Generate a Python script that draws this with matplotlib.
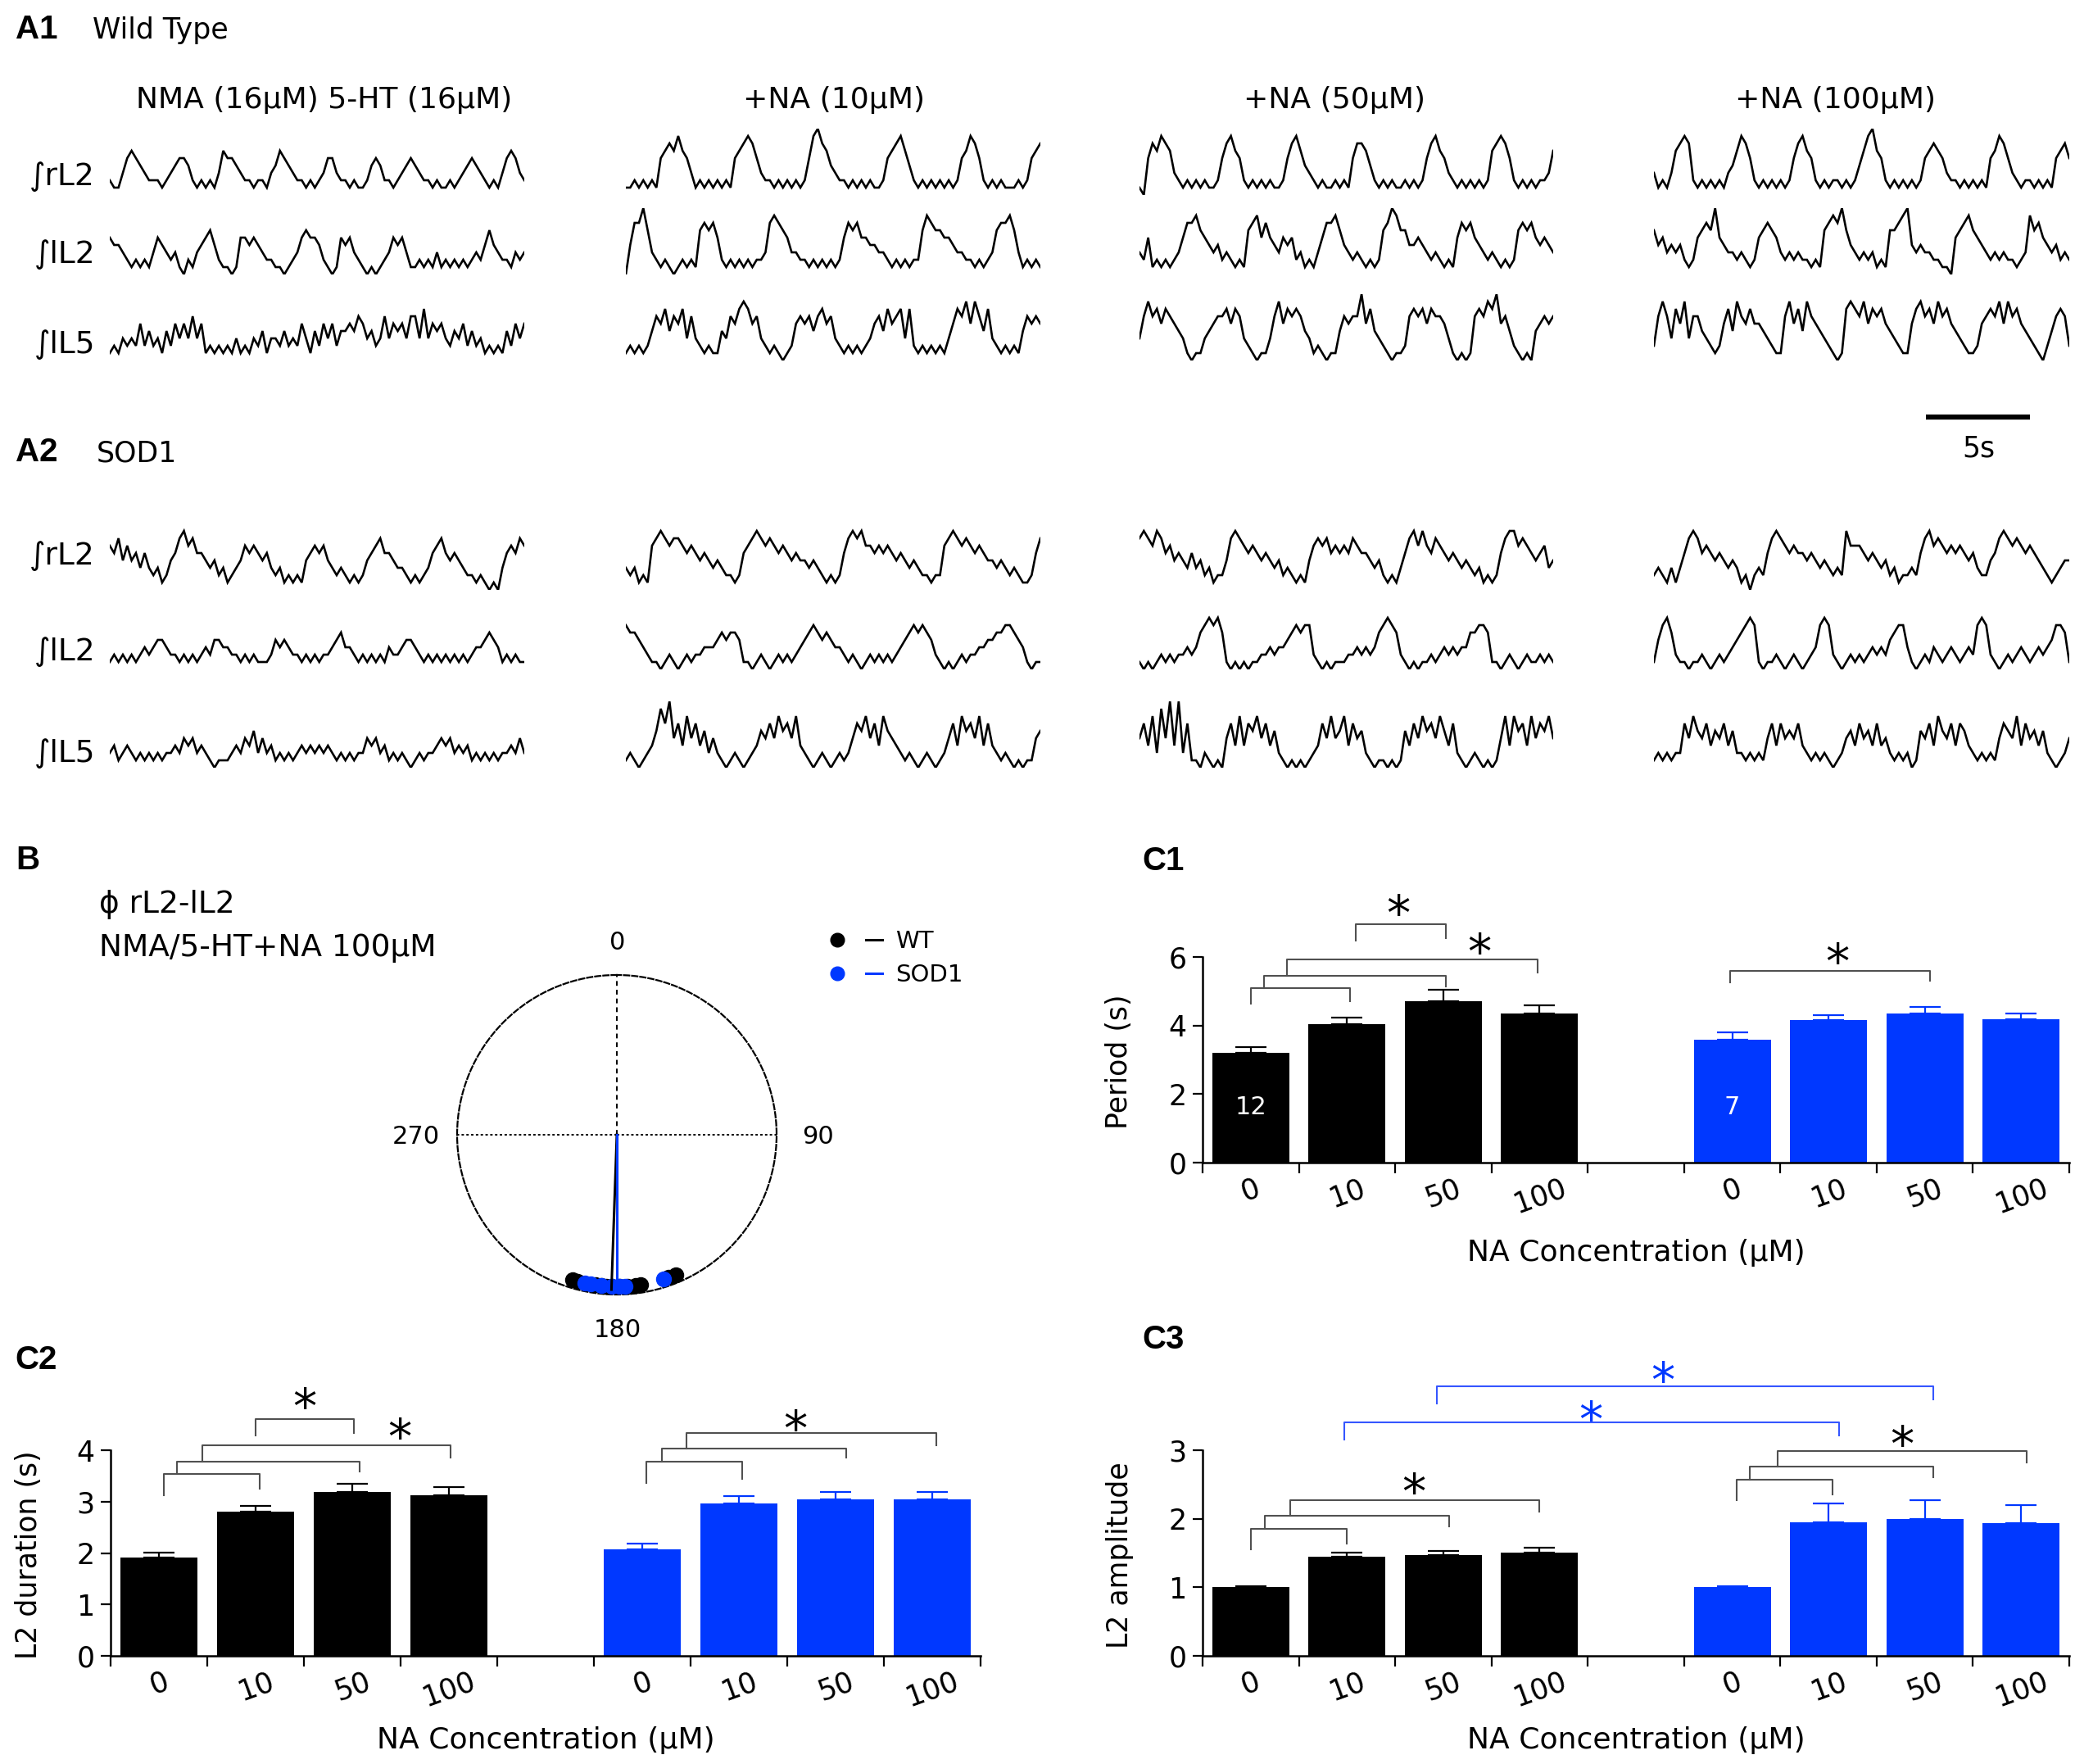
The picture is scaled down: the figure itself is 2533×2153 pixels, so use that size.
import numpy as np
import matplotlib
matplotlib.use("Agg")
import matplotlib.pyplot as plt
from matplotlib import transforms

plt.rcParams['font.family'] = ['DejaVu Sans']

# ------------------------------------------------------------------ data
concentrations = ["0", "10", "50", "100"]

period_wt = [3.21, 4.05, 4.71, 4.34]
period_wt_err = [0.15, 0.19, 0.33, 0.26]
period_sod = [3.58, 4.16, 4.36, 4.19]
period_sod_err = [0.23, 0.14, 0.17, 0.17]

duration_wt = [1.92, 2.80, 3.18, 3.13]
duration_wt_err = [0.09, 0.11, 0.17, 0.15]
duration_sod = [2.07, 2.97, 3.04, 3.05]
duration_sod_err = [0.12, 0.14, 0.15, 0.14]

amp_wt = [1.00, 1.45, 1.47, 1.51]
amp_wt_err = [0.01, 0.06, 0.06, 0.07]
amp_sod = [1.00, 1.95, 2.00, 1.94]
amp_sod_err = [0.01, 0.27, 0.27, 0.26]

n_wt, n_sod = 12, 7

# phase of rL2 vs lL2 (degrees), NMA/5-HT + NA 100uM
phase_wt = [197, 195, 188, 186, 184, 182, 179, 176, 173, 171, 160, 157]
phase_sod = [192, 190, 186, 182, 179, 177, 162]
phase_r = 0.95
mean_wt = (182, 0.97)
mean_sod = (180, 0.96)

# integrated ventral-root traces, digits = amplitude (arbitrary units)
# columns: NMA/5-HT, +NA 10, +NA 50, +NA 100
wt_rL2 = [
    "2113565432" "2212345542" "1212136554" "3221221346" "5432212123"
    "5532212112" "4542212345" "4322121121" "2345432121" "356532",
    "11212121" "5676865" "31" "21212121" "567875" "32212121212" "589764"
    "322121212112" "567864" "21212121212" "56875" "21212111212" "567",
    "10" "576876" "32121212112" "57865" "2121212112" "57864" "3212112121"
    "57764" "212121121212" "57865" "3212121212" "67875" "2121212236",
    "31213" "6787" "2" "12121213" "46875" "212121212" "57865" "2121221212"
    "468965" "212121212" "56765" "3221212121" "56875" "3212212121" "5675",
]
wt_lL2 = [
    "5443212121" "3543231021" "3456421101" "5545432211" "0123565542"
    "1015453210" "1012354531" "1212131212" "1212324643" "221323",
    "0477963" "2121012121" "676752" "1212121223" "787653" "32212121212"
    "5767554" "4332" "1212122" "687665" "54332" "212123" "67786" "312121",
    "3251212123" "57786" "5434232121" "678575" "43545231213" "57786"
    "432321212" "679866" "44543232121" "57675" "432321212" "67675" "4543",
    "6453434212" "567695" "43323212" "56765" "3232322121" "678796"
    "432323121" "66789" "4343322110" "567865" "43232322123" "8675" "434232",
]
wt_lL5 = [
    "1213232524" "2314253536" "3512121213" "1213241332" "4232531425"
    "3524454653" "4236354536" "6373545324" "3524231212" "142535",
    "121212" "4657465736" "321211" "4365787563" "2121012" "5656467563"
    "21212123" "564756737" "212121213" "576858647" "3212121" "46565",
    "368" "67576" "543" "1011" "3456" "675763" "21011" "36" "857676" "4312"
    "1011" "4656" "6957" "432" "10112" "676757665" "3" "10101" "67687956"
    "42" "1010" "45656",
    "26" "86375836" "64321" "25" "7486575" "543211" "68574865" "432101"
    "787685767" "543211" "5786758675" "432112" "5676858675" "43210" "246" "762",
]
sod_rL2 = [
    "657464535" "32312" "4578675" "54342312" "34656545" "32312121" "456564"
    "32321212" "45675543" "3212123" "5675454" "322121010" "356576",
    "323121" "6787" "6776565454343221" "256787" "67656545443432121"
    "2578786" "6565654543432212" "26787" "676565443432321" "1257",
    "787687" "5645435342312" "24787" "656545434232121" "4676756565765"
    "54342121" "3578686576545" "4343231212" "57886765" "45634",
    "2321313" "5787" "565454343120" "2325787" "65655454343232"
    "86665454342312" "232578" "676565654532" "245787676565" "43212344",
]
sod_lL2 = [
    "1212121232" "34432" "212121232" "44332" "212121112" "43432" "212121223"
    "45332" "1212121322" "34432" "1212121212123" "34543" "121211",
    "6554321" "101210121223" "334545541" "1012101212123" "4565454332"
    "1210121212123" "45656542" "1010121223" "3445566543" "1011",
    "1010121212" "2323" "567675" "10101011" "223233" "4565662" "10101112"
    "232323" "567652" "101011" "212323233" "556651" "10121012112121",
    "1467521" "10112101212" "345676" "1011210121012" "3676" "2101212123232"
    "45663" "101213212321232" "676" "21012123212323" "46651",
]
sod_lL5 = [
    "2312321" "2121212" "232434232" "10111" "23243524231" "2121"
    "23232323212" "1212" "24342312" "12101212" "2343423231" "2121212" "23242",
    "121012" "358694637463524" "210121012" "3546475647" "321012101212"
    "4657463754" "321210121012" "4637564736" "321210101" "145",
    "4637284939261" "1021010" "4637365746352" "10101012" "364745736452"
    "10110101" "5364756475362" "101210101" "4737563746574",
    "1212122" "6475463546352" "212121" "463645463" "212121012" "4536453634"
    "2121201" "546375463653" "212121" "46547364535" "210124",
]

column_titles = ["NMA (16µM) 5-HT (16µM)", "+NA (10µM)", "+NA (50µM)", "+NA (100µM)"]
trace_names = ["∫rL2", "∫lL2", "∫lL5"]

# ------------------------------------------------------------------ figure
W, H = 2533, 2153
fig = plt.figure(figsize=(W / 100, H / 100), dpi=100)
fig.patch.set_facecolor('white')
BLUE = '#0038ff'
BLUE_LINE = '#3556ff'
GRAY = '#505050'


def px_rect(x0, y_top, x1, y_bot):
    return [x0 / W, 1 - y_bot / H, (x1 - x0) / W, (y_bot - y_top) / H]


ov = fig.add_axes([0, 0, 1, 1])
ov.set_xlim(0, W)
ov.set_ylim(H, 0)
ov.axis('off')

BOLD = dict(family=['Liberation Sans', 'DejaVu Sans'], fontweight='bold', fontsize=29)


def otext(x, y, s, **kw):
    kw.setdefault('va', 'baseline')
    ov.text(x, y, s, **kw)


# ------------------------------------------------------------------ panel A
otext(19, 47, "A1", **BOLD)
otext(113, 47, "Wild Type", fontsize=25)
otext(19, 563, "A2", **BOLD)
otext(118, 563, "SOD1", fontsize=25)

col_x = [(134, 640), (764, 1270), (1391, 1896), (2019, 2526)]
col_centers = [396, 1018, 1629, 2240]
for t, cx in zip(column_titles, col_centers):
    otext(cx, 132, t, ha='center', fontsize=26)

UNIT = 9.0
rows_A1 = [238, 335, 440]
rows_A2 = [720, 817, 937]
label_base_A1 = [226, 321, 431]
label_base_A2 = [689, 806, 930]


def draw_trace(x0, x1, ybot, s):
    vals = np.array([int(c) for c in s], dtype=float)
    ax = fig.add_axes(px_rect(x0, ybot - 9 * UNIT, x1, ybot))
    ax.plot(np.arange(len(vals)), vals, color='black', lw=1.9,
            solid_joinstyle='miter')
    ax.set_xlim(0, len(vals) - 1)
    ax.set_ylim(0, 9)
    ax.axis('off')


for group, rows, lbase in ((
        (wt_rL2, wt_lL2, wt_lL5), rows_A1, label_base_A1),
        ((sod_rL2, sod_lL2, sod_lL5), rows_A2, label_base_A2)):
    for traces, ybot, lb, name in zip(group, rows, lbase, trace_names):
        otext(116, lb, name, ha='right', fontsize=27)
        for (x0, x1), s in zip(col_x, traces):
            draw_trace(x0, x1, ybot, s)

# scale bar
ov.plot([2351, 2478], [509, 509], color='black', lw=4.5, solid_capstyle='butt')
otext(2415, 557, "5s", ha='center', fontsize=25)

# ------------------------------------------------------------------ panel B
otext(19, 1061, "B", **BOLD)
otext(121, 1114, "ϕ rL2-lL2", fontsize=27)
otext(121, 1167, "NMA/5-HT+NA 100µM", fontsize=27)

axp = fig.add_axes(px_rect(558, 1190, 948, 1580), projection='polar')
axp.set_theta_zero_location('N')
axp.set_theta_direction(-1)
axp.set_ylim(0, 1)
axp.set_yticks([])
axp.set_xticks(np.deg2rad([0, 90, 180, 270]))
axp.set_xticklabels([])
axp.tick_params(axis='x', length=0)
axp.grid(True, color='black', lw=1.4)
for i, g in enumerate(axp.xaxis.get_gridlines()):
    if i % 2 == 0:
        g.set_dashes([3, 2.5])
    else:
        g.set_dashes([1.5, 1.5])
axp.spines['polar'].set_linestyle((0, (3, 1.5)))
axp.spines['polar'].set_linewidth(1.6)
axp.patch.set_alpha(0)
axp.plot(np.deg2rad(phase_wt), [phase_r] * len(phase_wt), 'o', color='black',
         ms=13, clip_on=False, zorder=4)
axp.plot(np.deg2rad(phase_sod), [phase_r] * len(phase_sod), 'o', color=BLUE,
         ms=13, clip_on=False, zorder=5)
axp.plot([np.deg2rad(mean_wt[0])] * 2, [0, mean_wt[1]], color='black', lw=2.2, zorder=6)
axp.plot([np.deg2rad(mean_sod[0])] * 2, [0, mean_sod[1]], color=BLUE, lw=2.2, zorder=7)

otext(754, 1159, "0", ha='center', fontsize=22)
otext(754, 1632, "180", ha='center', fontsize=22)
otext(979, 1396, "90", ha='left', fontsize=22)
otext(537, 1396, "270", ha='right', fontsize=22)

# legend
ov.plot([1022], [1147], 'o', color='black', ms=12)
ov.plot([1057, 1077], [1147, 1147], color='black', lw=2.2)
otext(1093, 1157, "WT", fontsize=21)
ov.plot([1022], [1188], 'o', color=BLUE, ms=12)
ov.plot([1057, 1077], [1188, 1188], color=BLUE, lw=2.2)
otext(1093, 1198, "SOD1", fontsize=21)

# ------------------------------------------------------------------ panel C
otext(1394, 1062, "C1", **BOLD)
otext(18, 1671, "C2", **BOLD)
otext(1394, 1646, "C3", **BOLD)


def bar_panel(rect, wt, wt_err, sod, sod_err, ymax, yticks, ylabel,
              ylabel_x, xlabel_y):
    ax = fig.add_axes(rect)
    ax.patch.set_alpha(0)
    xw = np.arange(4)
    xs = np.arange(5, 9)
    ax.bar(xw, wt, width=0.8, color='black', zorder=2)
    ax.bar(xs, sod, width=0.8, color=BLUE, zorder=2)
    ax.errorbar(xw, wt, yerr=[np.zeros(4), wt_err], fmt='none', ecolor='black',
                elinewidth=1.6, capsize=14, capthick=1.6, zorder=3)
    ax.errorbar(xs, sod, yerr=[np.zeros(4), sod_err], fmt='none', ecolor=BLUE,
                elinewidth=1.6, capsize=14, capthick=1.6, zorder=3)
    ax.set_xlim(-0.5, 8.5)
    ax.set_ylim(0, ymax)
    for s in ('top', 'right'):
        ax.spines[s].set_visible(False)
    for s in ('left', 'bottom'):
        ax.spines[s].set_linewidth(1.8)
    ax.set_xticks(np.arange(-0.5, 9.0, 1.0))
    ax.set_xticklabels([])
    ax.set_xticks(np.concatenate([xw, xs]), minor=True)
    ax.set_xticklabels(concentrations * 2, minor=True, rotation=20, fontsize=25)
    ax.tick_params(axis='x', which='major', direction='out', length=9, width=1.6)
    ax.tick_params(axis='x', which='minor', length=0, pad=10)
    ax.set_yticks(yticks)
    ax.tick_params(axis='y', direction='out', length=9, width=1.6,
                   labelsize=25, pad=5)
    ax.set_ylabel(ylabel, fontsize=25)
    ax.yaxis.set_label_coords(ylabel_x, 0.49)
    ax.yaxis.label.set_va('center')
    ax.set_xlabel('NA Concentration (µM)', fontsize=26)
    ax.xaxis.set_label_coords(0.5, xlabel_y)
    return ax


def bracket(ax, xl, xr, ytop, yl, yr, color=GRAY, lw=1.5):
    ax.plot([xl, xl, xr, xr], [yl, ytop, ytop, yr], color=color, lw=lw,
            clip_on=False, zorder=4)


def star(ax, x, y, color='black', fs=42):
    tr = transforms.offset_copy(ax.transData, fig=fig, y=-0.57 * fs, units='points')
    ax.text(x, y, '*', transform=tr, ha='center', va='baseline', fontsize=fs,
            color=color, clip_on=False)


# C1
ax1 = bar_panel(px_rect(1468, 1168, 2526, 1419), period_wt, period_wt_err,
                period_sod, period_sod_err, 6, [0, 2, 4, 6], 'Period (s)',
                -0.0964, -0.37)
ax1.text(0, 1.41, str(n_wt), color='white', ha='center', va='baseline', fontsize=22, zorder=5)
ax1.text(5, 1.41, str(n_sod), color='white', ha='center', va='baseline', fontsize=22, zorder=5)
bracket(ax1, 0.0, 1.03, 5.09, 4.63, 4.70)
bracket(ax1, 0.14, 2.03, 5.46, 5.09, 5.14)
bracket(ax1, 0.38, 2.98, 5.92, 5.46, 5.55)
bracket(ax1, 1.09, 2.03, 6.96, 6.49, 6.56)
star(ax1, 1.53, 7.58)
star(ax1, 2.37, 6.47)
bracket(ax1, 4.98, 7.05, 5.60, 5.25, 5.31)
star(ax1, 6.09, 6.17)

# C2
ax2 = bar_panel(px_rect(135, 1770, 1197, 2021), duration_wt, duration_wt_err,
                duration_sod, duration_sod_err, 4, [0, 1, 2, 3, 4],
                'L2 duration (s)', -0.0942, -0.343)
bracket(ax2, 0.05, 1.04, 3.53, 3.13, 3.25)
bracket(ax2, 0.19, 2.08, 3.78, 3.53, 3.59)
bracket(ax2, 0.45, 3.02, 4.09, 3.78, 3.85)
bracket(ax2, 1.00, 2.02, 4.60, 4.29, 4.34)
star(ax2, 1.51, 5.06)
star(ax2, 2.49, 4.47)
bracket(ax2, 5.04, 6.03, 3.78, 3.37, 3.45)
bracket(ax2, 5.20, 7.11, 4.03, 3.78, 3.85)
bracket(ax2, 5.46, 8.04, 4.34, 4.03, 4.10)
star(ax2, 6.58, 4.62)

# C3
ax3 = bar_panel(px_rect(1468, 1770, 2526, 2021), amp_wt, amp_wt_err,
                amp_sod, amp_sod_err, 3, [0, 1, 2, 3], 'L2 amplitude',
                -0.0955, -0.343)
bracket(ax3, 0.00, 1.00, 1.85, 1.55, 1.64)
bracket(ax3, 0.15, 2.06, 2.04, 1.85, 1.89)
bracket(ax3, 0.41, 3.00, 2.27, 2.04, 2.10)
star(ax3, 1.69, 2.55)
bracket(ax3, 5.05, 6.04, 2.57, 2.27, 2.35)
bracket(ax3, 5.18, 7.09, 2.76, 2.57, 2.61)
bracket(ax3, 5.47, 8.06, 2.99, 2.76, 2.82)
star(ax3, 6.76, 3.24)
bracket(ax3, 0.97, 6.11, 3.41, 3.15, 3.21, color=BLUE_LINE)
star(ax3, 3.53, 3.60, color=BLUE)
bracket(ax3, 1.93, 7.09, 3.93, 3.68, 3.74, color=BLUE_LINE)
star(ax3, 4.28, 4.17, color=BLUE)

fig.savefig('out.png', dpi=100, facecolor='white')
